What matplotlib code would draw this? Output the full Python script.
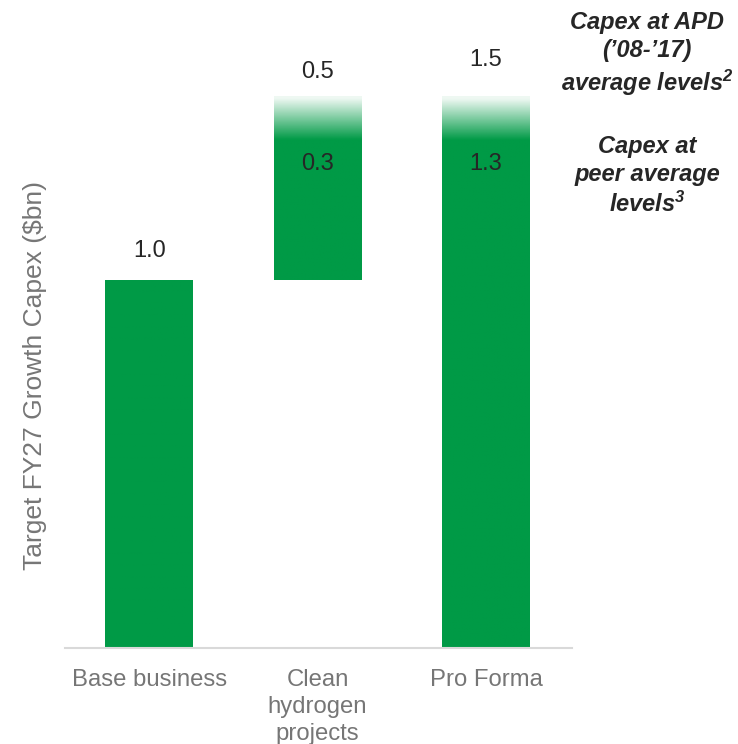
import numpy as np
import matplotlib.pyplot as plt

# data ($bn)
categories = ['Base business', 'Clean\nhydrogen\nprojects', 'Pro Forma']
bar_bottom = [0.0, 1.0, 0.0]
peer_level = [1.0, 1.3, 1.3]      # capex at peer average levels (solid part)
apd_level = [1.0, 1.5, 1.5]       # capex at APD ('08-'17) average levels (faded top)
peer_labels = [None, '0.3', '1.3']
top_labels = ['1.0', '0.5', '1.5']

green = '#009a46'
dark = '#262626'
grey = '#767676'

plt.rcParams['font.family'] = ['Liberation Sans', 'DejaVu Sans']
plt.rcParams['mathtext.fontset'] = 'custom'
plt.rcParams['mathtext.rm'] = 'Liberation Sans:bold:italic'
plt.rcParams['mathtext.it'] = 'Liberation Sans:bold:italic'
plt.rcParams['mathtext.bf'] = 'Liberation Sans:bold:italic'

fig = plt.figure(figsize=(7.38, 7.44), dpi=100)
ax = fig.add_axes([0.088, 0.129, 0.687, 0.7917])

x = np.arange(len(categories))
w = 0.52

# full bars (bottom -> APD level) used as outlines; filled with a
# vertical gradient: solid green up to the peer level, fading out to the top
heights = [a - b for a, b in zip(apd_level, bar_bottom)]
bars = ax.bar(x, heights, w, bottom=bar_bottom, color='none', linewidth=0)
rgb = np.array([0, 154, 70]) / 255
n = 400
for xi, b, lo, hi, patch in zip(x, bar_bottom, peer_level, apd_level, bars.patches):
    ys = np.linspace(hi, b, n)
    if hi > lo:
        alpha = np.clip((hi - ys) / (0.6 * (hi - lo)), 0.07, 1.0)
    else:
        alpha = np.ones(n)
    img = np.zeros((n, 1, 4))
    img[:, 0, :3] = rgb
    img[:, 0, 3] = alpha
    im = ax.imshow(img, extent=[xi - w, xi + w, b, hi], aspect='auto',
                   origin='upper', zorder=2, interpolation='bilinear')
    im.set_clip_path(patch)

# value labels
top_offsets = [21, 17, 26]
for xi, hi, lab, off in zip(x, apd_level, top_labels, top_offsets):
    ax.annotate(lab, (xi, hi), xytext=(0, off), textcoords='offset points',
                ha='center', va='center', fontsize=17, color=dark, zorder=5)
for xi, pl, lab in zip(x, peer_level, peer_labels):
    if lab:
        ax.annotate(lab, (xi, pl), xytext=(0, 4), textcoords='offset points',
                    ha='center', va='center', fontsize=17, color=dark, zorder=5)

ax.set_xlim(-0.5, 2.51)
ax.set_ylim(0, 1.6)
ax.set_xticks(x)
ax.set_xticklabels(categories, fontsize=17.2, color=grey, linespacing=1.3)
ax.tick_params(axis='x', length=0, pad=15)
ax.set_yticks([])
for s in ['top', 'right', 'left']:
    ax.spines[s].set_visible(False)
ax.spines['bottom'].set_color('#d9d9d9')
ax.spines['bottom'].set_linewidth(1.5)
ax.spines['bottom'].set_zorder(3)
ax.set_ylabel('Target FY27 Growth Capex ($bn)', fontsize=19, color=grey)
ax.yaxis.set_label_coords(-0.035, 0.463)

# right-hand annotations
fig.text(0.877, 0.927, 'Capex at APD\n(’08-’17)\naverage levels$^{2}$', ha='center', va='center',
         fontsize=17, color=dark, fontweight='bold', fontstyle='italic', linespacing=1.25)
fig.text(0.877, 0.763, 'Capex at\npeer average\nlevels$^{3}$', ha='center', va='center',
         fontsize=17, color=dark, fontweight='bold', fontstyle='italic', linespacing=1.28)

fig.savefig('out.png', dpi=100)
